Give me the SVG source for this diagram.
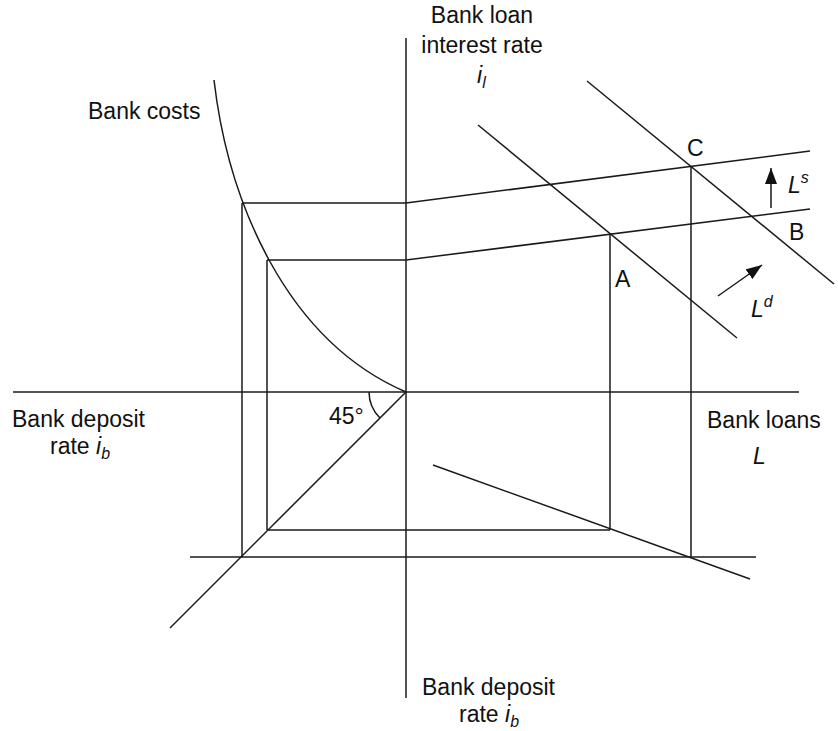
<svg xmlns="http://www.w3.org/2000/svg" width="838" height="731" viewBox="0 0 838 731">
<style>
.ln{stroke:#1a1a1a;stroke-width:1.5;fill:none}
.t{font-family:"Liberation Sans",Arial,sans-serif;font-size:23px;fill:#111}
.i{font-style:italic}
.sm{font-size:16px}
</style>
<defs>
<marker id="ah" markerWidth="10" markerHeight="10" refX="9" refY="5" orient="auto" markerUnits="userSpaceOnUse">
<path d="M0,0 L10,5 L0,10 Z" fill="#111"/>
</marker>
<marker id="ah2" viewBox="0 0 16 12" markerWidth="16" markerHeight="12" refX="16" refY="6" orient="auto" markerUnits="userSpaceOnUse">
<path d="M0,0 L16,6 L0,12 Z" fill="#111"/>
</marker>
</defs>
<rect width="838" height="731" fill="#fff"/>
<g id="connectors">
<line id="axis-v" class="ln" x1="406" y1="38" x2="406" y2="698"/>
<line id="axis-h" class="ln" x1="13" y1="392" x2="799" y2="392"/>
<path id="bank-costs" class="ln" d="M214,80 C228,200 285,340 406,392"/>
<line id="diag45" class="ln" x1="406" y1="392" x2="170" y2="628"/>
<path id="angle" class="ln" d="M369,392 A37,37 0 0,0 380,418"/>
<polyline id="ls-top" class="ln" points="242,203 406,203 810,151"/>
<polyline id="ls-low" class="ln" points="267,260 406,260 810,209"/>
<line class="ln" x1="242" y1="203" x2="242" y2="557"/>
<line class="ln" x1="267" y1="260" x2="267" y2="530"/>
<line class="ln" x1="610" y1="234" x2="610" y2="530"/>
<line class="ln" x1="691" y1="166" x2="691" y2="557"/>
<line class="ln" x1="267" y1="530" x2="610" y2="530"/>
<line class="ln" x1="190" y1="557" x2="756" y2="557"/>
<line id="ld1" class="ln" x1="478" y1="125" x2="737" y2="338"/>
<line id="ld2" class="ln" x1="587" y1="81" x2="834" y2="284"/>
<line id="supply-low" class="ln" x1="433" y1="465" x2="750" y2="579"/>
<line id="arrow-s" class="ln" x1="771" y1="208" x2="771" y2="168" marker-end="url(#ah2)"/>
<line id="arrow-d" class="ln" x1="718" y1="296" x2="762" y2="265" marker-end="url(#ah2)"/>
</g>
<g id="labels">
<text class="t" x="482" y="23" text-anchor="middle">Bank loan</text>
<text class="t" x="482" y="53" text-anchor="middle">interest rate</text>
<text class="t i" x="477" y="83">i<tspan class="sm" dy="5">l</tspan></text>
<text class="t" x="88" y="119">Bank costs</text>
<text class="t" x="329" y="424">45°</text>
<text class="t" x="12" y="427">Bank deposit</text>
<text class="t" x="50" y="454">rate <tspan class="i">i</tspan><tspan class="i sm" dy="5">b</tspan></text>
<text class="t" x="707" y="428">Bank loans</text>
<text class="t i" x="753" y="464">L</text>
<text class="t" x="422" y="695">Bank deposit</text>
<text class="t" x="459" y="722">rate <tspan class="i">i</tspan><tspan class="i sm" dy="5">b</tspan></text>
<text class="t" x="687" y="156">C</text>
<text class="t" x="789" y="240">B</text>
<text class="t" x="615" y="287">A</text>
<text class="t i" x="788" y="193">L<tspan class="sm" dy="-10">s</tspan></text>
<text class="t i" x="751" y="317">L<tspan class="sm" dy="-10">d</tspan></text>
</g>
</svg>
